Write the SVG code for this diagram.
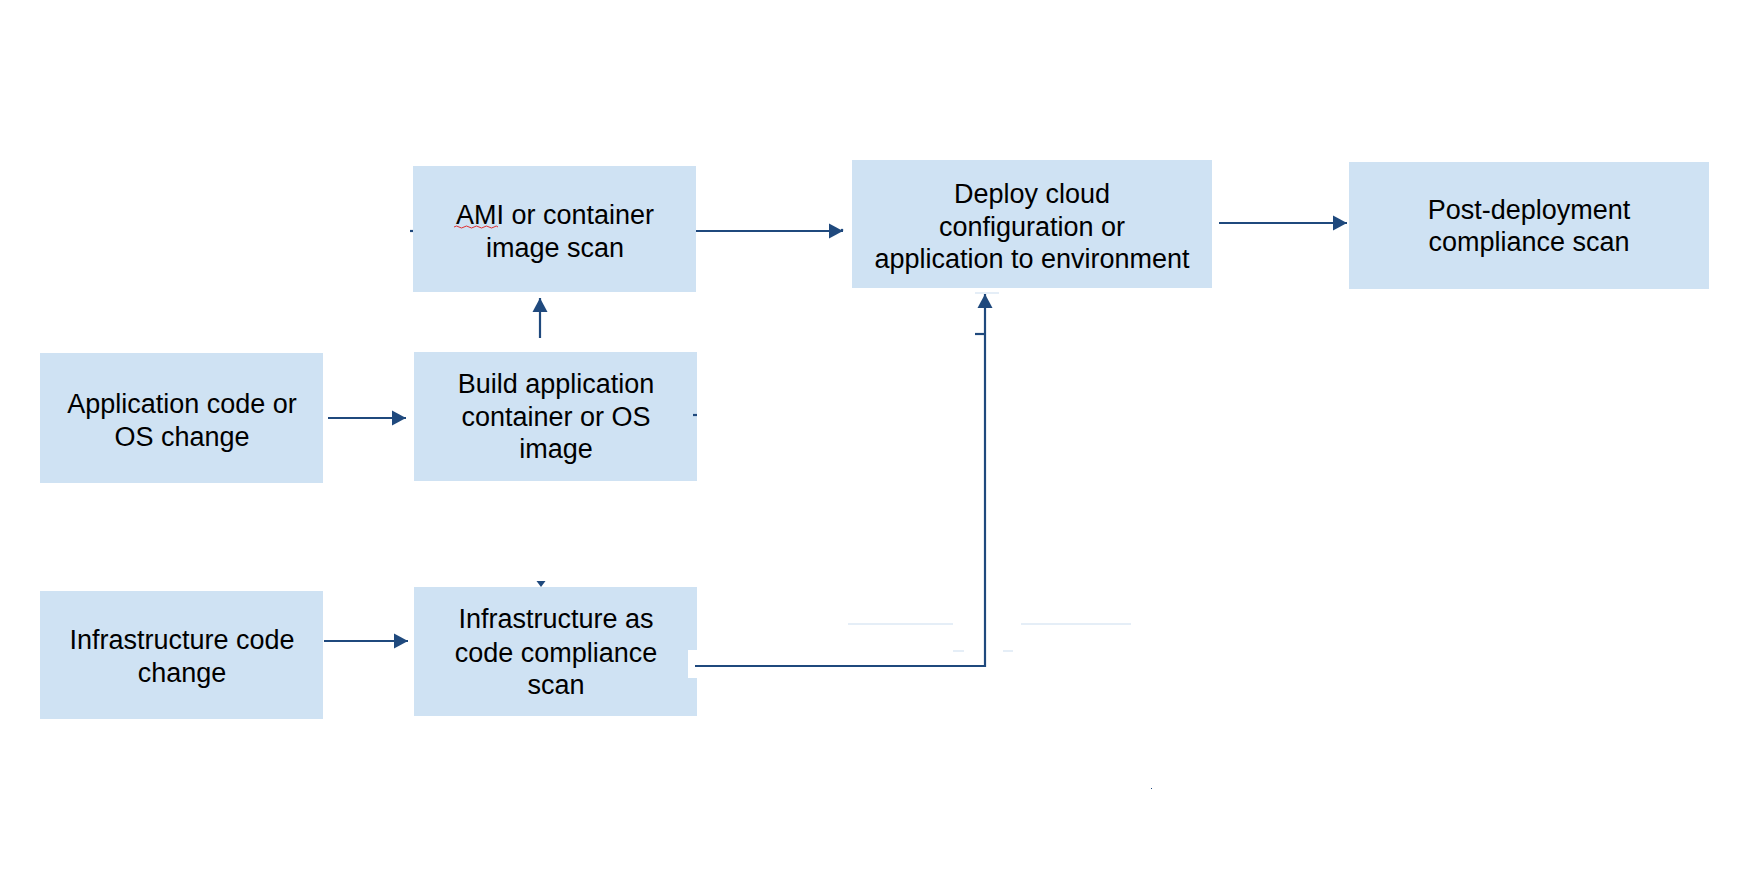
<svg xmlns="http://www.w3.org/2000/svg" width="1752" height="895" viewBox="0 0 1752 895">
<style>
.box{fill:#CFE2F3}
.t{font-family:"Liberation Sans",Arial,sans-serif;font-size:27px;fill:#000;text-anchor:middle}
.c{fill:none;stroke:#1F497D;stroke-width:2.2}
.faint{fill:none;stroke:#DCE9F5;stroke-width:1.5}
</style>
<defs>
<marker id="ah" markerUnits="userSpaceOnUse" markerWidth="16" markerHeight="16" viewBox="0 0 14 16" refX="14" refY="8" orient="auto">
<path d="M0,0.5 L14,8 L0,15.5 Z" fill="#1F497D"/>
</marker>
</defs>
<rect width="1752" height="895" fill="#fff"/>
<g id="ami">
<rect class="box" x="413" y="166" width="283" height="126"/>
<text class="t" x="555" y="224">AMI or container</text>
<text class="t" x="555" y="257">image scan</text>
<path d="M454,227 q2.5,-2 5,0 t5,0 t5,0 t5,0 t5,0 t5,0 t5,0 t5,0 t4,0" fill="none" stroke="#E03030" stroke-width="1"/>
</g>
<g id="deploy">
<rect class="box" x="852" y="160" width="360" height="128"/>
<text class="t" x="1032" y="203">Deploy cloud</text>
<text class="t" x="1032" y="236">configuration or</text>
<text class="t" x="1032" y="268">application to environment</text>
</g>
<g id="post">
<rect class="box" x="1349" y="162" width="360" height="127"/>
<text class="t" x="1529" y="219">Post-deployment</text>
<text class="t" x="1529" y="251">compliance scan</text>
</g>
<g id="appcode">
<rect class="box" x="40" y="353" width="283" height="130"/>
<text class="t" x="182" y="413">Application code or</text>
<text class="t" x="182" y="446">OS change</text>
</g>
<g id="build">
<rect class="box" x="414" y="352" width="283" height="129"/>
<text class="t" x="556" y="393">Build application</text>
<text class="t" x="556" y="426">container or OS</text>
<text class="t" x="556" y="458">image</text>
</g>
<g id="infrachange">
<rect class="box" x="40" y="591" width="283" height="128"/>
<text class="t" x="182" y="649">Infrastructure code</text>
<text class="t" x="182" y="682">change</text>
</g>
<g id="iacscan">
<rect class="box" x="414" y="587" width="283" height="129"/>
<rect x="688" y="650" width="9" height="28" fill="#fff"/>
<text class="t" x="556" y="628">Infrastructure as</text>
<text class="t" x="556" y="662">code compliance</text>
<text class="t" x="556" y="694">scan</text>
</g>
<g id="connectors">
<line class="c" x1="696" y1="231" x2="843" y2="231" marker-end="url(#ah)"/>
<line class="c" x1="1219" y1="223" x2="1347" y2="223" marker-end="url(#ah)"/>
<line class="c" x1="328" y1="418" x2="406" y2="418" marker-end="url(#ah)"/>
<line class="c" x1="324" y1="641" x2="408" y2="641" marker-end="url(#ah)"/>
<line class="c" x1="540" y1="338" x2="540" y2="298" marker-end="url(#ah)"/>
<polyline class="c" points="695,666 985,666 985,294" marker-end="url(#ah)"/>
<line class="c" x1="975" y1="334" x2="985" y2="334" stroke-width="1.5"/>
<polygon points="536.5,581 545.5,581 541,587" fill="#1F497D"/>
<line class="c" x1="410" y1="231" x2="413" y2="231" stroke-width="1.5"/>
<line class="c" x1="693" y1="415" x2="697" y2="415" stroke-width="1.5"/>
<circle cx="842" cy="230" r="1.3" fill="#1F497D"/>
<line class="faint" x1="975" y1="293" x2="999" y2="293"/>
<line class="faint" x1="848" y1="624" x2="953" y2="624"/>
<line class="faint" x1="1021" y1="624" x2="1131" y2="624"/>
<line class="faint" x1="953" y1="651" x2="964" y2="651"/>
<line class="faint" x1="1003" y1="651" x2="1013" y2="651"/>
<rect x="1151" y="788" width="1" height="1" fill="#1F497D"/>
</g>
</svg>
